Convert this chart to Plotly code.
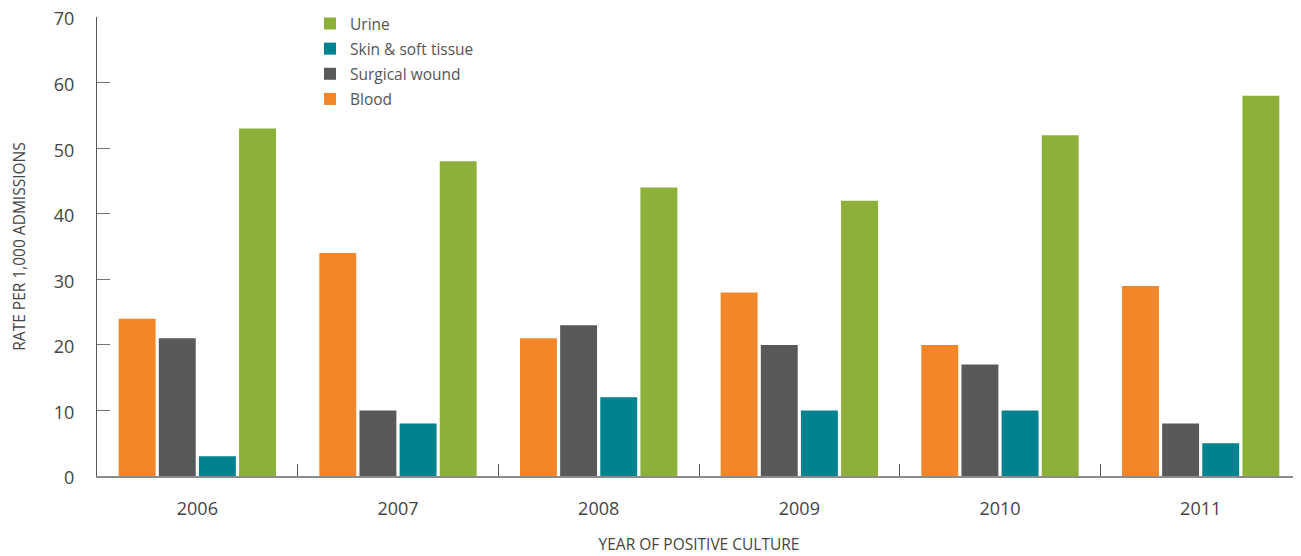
import plotly.graph_objects as go

years = ["2006", "2007", "2008", "2009", "2010", "2011"]
blood = [24, 34, 21, 28, 20, 29]
surgical = [21, 10, 23, 20, 17, 8]
skin = [3, 8, 12, 10, 10, 5]
urine = [53, 48, 44, 42, 52, 58]

series = [
    ("Blood", blood, "#F4862A"),
    ("Surgical wound", surgical, "#58595B"),
    ("Skin & soft tissue", skin, "#00838F"),
    ("Urine", urine, "#8CB038"),
]

fig = go.Figure()
for i, (name, vals, col) in enumerate(series):
    fig.add_trace(go.Bar(x=years, y=vals, name=name, marker_color=col,
                         marker_line_width=0, legendgroup=name,
                         legendrank=1000 - i))

font = "Open Sans, sans-serif"
fig.update_layout(
    width=1293, height=548,
    margin=dict(l=89, r=0, t=9, b=80, autoexpand=False),
    paper_bgcolor="white", plot_bgcolor="white",
    barmode="group", bargap=0.2, bargroupgap=0.08,
    font=dict(family=font, color="#444444"),
    showlegend=True,
    legend=dict(traceorder="grouped", xref="paper", yref="paper",
                x=(310-97)/1204, y=1.022, xanchor="left", yanchor="top",
                font=dict(size=15.5, color="#555555"), tracegroupgap=2,
                bgcolor="rgba(0,0,0,0)"),
    xaxis=dict(type="category", showline=True, linecolor="#8a8a8a", linewidth=2,
               ticks="inside", tickson="boundaries", ticklen=12, tickcolor="#555555",
               tickwidth=1, tickfont=dict(size=18, color="#444444"),
               showgrid=False, zeroline=False, ticklabelstandoff=15,
               title=dict(text="YEAR OF POSITIVE CULTURE", font=dict(size=15.5, color="#444444"), standoff=21)),
    yaxis=dict(range=[0, 70.02], tickmode="array", tickvals=[0, 10, 20, 30, 40, 50, 60, 70],
               showline=True, linecolor="#555555", linewidth=1,
               ticks="inside", ticklen=13, tickcolor="#777777", tickwidth=1,
               tickfont=dict(size=18, color="#444444"), showgrid=False, zeroline=False,
               ticklabelstandoff=18, ticklabeloverflow="allow", ticklabelshift=2,
               title=dict(text="RATE PER 1,000 ADMISSIONS", font=dict(size=15.5, color="#444444"), standoff=28)),
)
fig.write_html("out.html")
